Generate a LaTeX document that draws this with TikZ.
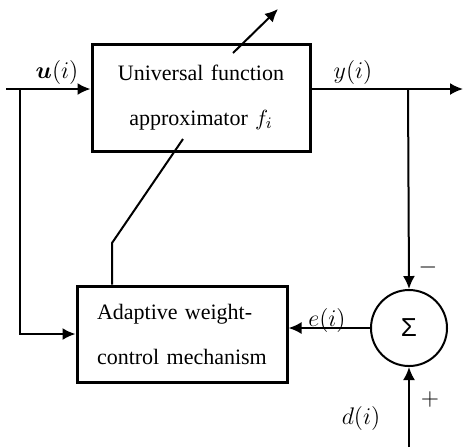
\documentclass[tikz,border=0pt]{standalone}
\usepackage{bm}
\usepackage{fontspec}
\setmainfont{Liberation Serif}
\newfontfamily\sumfont{Liberation Sans}
\usetikzlibrary{arrows.meta}

\begin{document}
\begin{tikzpicture}[x=0.5pt,y=-0.5pt,
  blk/.style={draw,line width=1.5pt,inner xsep=10pt,inner ysep=0pt,font=\fontsize{11}{22.5}\selectfont},
  sig/.style={line width=1pt},
  arr/.style={sig,-{Latex[length=6.5pt,width=6pt]}},
  lbl/.style={inner sep=0pt,font=\fontsize{12.5}{14}\selectfont}]
  \useasboundingbox (0,0) rectangle (464,447);
  % blocks
  \node[blk,text width=89pt,align=center,minimum height=53.5pt] (fa) at (201,97.5) {Universal function\\approximator $f_i$};
  \node[blk,text width=85pt,align=left,minimum height=48pt] (awc) at (182,334) {Adaptive weight-\\control mechanism};
  \node[draw,circle,line width=1pt,minimum size=38pt,inner sep=0pt,font=\sumfont\fontsize{13}{13}\selectfont] (sum) at (409,328) {Σ};
  % signal points
  \coordinate (uin) at (6,89);
  \coordinate (ubr) at (20,89);
  \coordinate (ybr) at (408,89);
  \coordinate (yout) at (463,89);
  \coordinate (din) at (409,447);
  \coordinate (wa) at (233,53);
  \coordinate (wb) at (278,9);
  \coordinate (la) at (183,139);
  \coordinate (lb) at (112,243);
  % connectors
  \draw[arr] (uin) -- (uin -| fa.west);
  \draw[arr] (ubr) |- (awc.west);
  \draw[arr] (fa.east |- uin) -- (yout);
  \draw[arr] (ybr) -- (sum.north);
  \draw[arr] (din) -- (sum.south);
  \draw[arr] (sum.west) -- (sum.west -| awc.east);
  \draw[arr] (wa) -- (wb);
  \draw[sig] (la) -- (lb) -- (lb |- awc.north);
  % labels
  \node[lbl] (ulbl) at (57,72) {$\bm{u}(i)$};
  \node[lbl] (ylbl) at (353,72) {$y(i)$};
  \node[lbl] (elbl) at (327,320) {$e(i)$};
  \node[lbl] (dlbl) at (361,418) {$d(i)$};
  \node[lbl] (minus) at (428,267) {$-$};
  \node[lbl] (plus) at (430,399) {$+$};
\end{tikzpicture}
\end{document}
